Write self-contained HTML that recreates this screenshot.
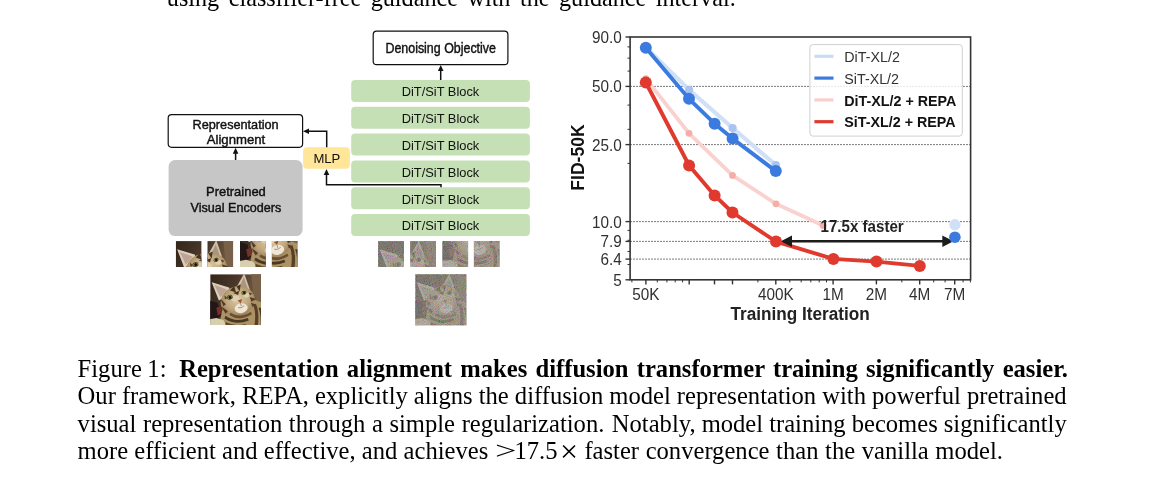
<!DOCTYPE html>
<html><head><meta charset="utf-8"><title>Figure 1</title>
<style>
html,body{margin:0;padding:0;background:#fff;}
body{width:1168px;height:489px;overflow:hidden;position:relative;font-family:"Liberation Serif",serif;color:#000;}
svg{position:absolute;left:0;top:0;}
.ln{position:absolute;left:77.6px;white-space:nowrap;font-size:24.6px;line-height:28px;height:28px;}
</style></head><body>
<div class="ln" id="t0" style="left:166.8px;top:-16.2px;font-size:24.2px;word-spacing:3.45px;">using classifier-free guidance with the guidance interval.</div>
<svg width="1168" height="489" viewBox="0 0 1168 489">
<g id="diagram">
<rect x="351.2" y="80.0" width="178.7" height="22" rx="4" fill="#c5e0b4"/>
<text x="440.5" y="96.3" text-anchor="middle" font-size="12.85" fill="#111" font-family="Liberation Sans, sans-serif">DiT/SiT Block</text>
<rect x="351.2" y="106.8" width="178.7" height="22" rx="4" fill="#c5e0b4"/>
<text x="440.5" y="123.1" text-anchor="middle" font-size="12.85" fill="#111" font-family="Liberation Sans, sans-serif">DiT/SiT Block</text>
<rect x="351.2" y="133.6" width="178.7" height="22" rx="4" fill="#c5e0b4"/>
<text x="440.5" y="149.9" text-anchor="middle" font-size="12.85" fill="#111" font-family="Liberation Sans, sans-serif">DiT/SiT Block</text>
<rect x="351.2" y="160.4" width="178.7" height="22" rx="4" fill="#c5e0b4"/>
<text x="440.5" y="176.7" text-anchor="middle" font-size="12.85" fill="#111" font-family="Liberation Sans, sans-serif">DiT/SiT Block</text>
<rect x="351.2" y="187.2" width="178.7" height="22" rx="4" fill="#c5e0b4"/>
<text x="440.5" y="203.5" text-anchor="middle" font-size="12.85" fill="#111" font-family="Liberation Sans, sans-serif">DiT/SiT Block</text>
<rect x="351.2" y="214.0" width="178.7" height="22" rx="4" fill="#c5e0b4"/>
<text x="440.5" y="230.3" text-anchor="middle" font-size="12.85" fill="#111" font-family="Liberation Sans, sans-serif">DiT/SiT Block</text>
<rect x="373.2" y="31.2" width="134.7" height="33.5" rx="3.5" fill="#fff" stroke="#111" stroke-width="1.2"/>
<text x="440.7" y="52.7" text-anchor="middle" font-size="14" fill="#111" stroke="#111" stroke-width="0.42" textLength="110.5" lengthAdjust="spacingAndGlyphs" font-family="Liberation Sans, sans-serif">Denoising Objective</text>
<line x1="440.7" x2="440.7" y1="80" y2="69" stroke="#111" stroke-width="1.5"/>
<polygon points="440.7,65 437.9,71 443.5,71" fill="#111"/>
<rect x="168.2" y="114.6" width="134.4" height="32.7" rx="3.5" fill="#fff" stroke="#111" stroke-width="1.2"/>
<text x="235.6" y="128.6" text-anchor="middle" font-size="13.1" fill="#111" stroke="#111" stroke-width="0.42" textLength="86" lengthAdjust="spacingAndGlyphs" font-family="Liberation Sans, sans-serif">Representation</text>
<text x="236" y="143.5" text-anchor="middle" font-size="13.1" fill="#111" stroke="#111" stroke-width="0.42" textLength="58.5" lengthAdjust="spacingAndGlyphs" font-family="Liberation Sans, sans-serif">Alignment</text>
<rect x="168.6" y="160.1" width="134" height="76" rx="6.5" fill="#c6c6c6"/>
<text x="235.9" y="195.8" text-anchor="middle" font-size="12.8" fill="#111" stroke="#111" stroke-width="0.42" textLength="59.8" lengthAdjust="spacingAndGlyphs" font-family="Liberation Sans, sans-serif">Pretrained</text>
<text x="235.9" y="211.7" text-anchor="middle" font-size="12.8" fill="#111" stroke="#111" stroke-width="0.42" textLength="90.6" lengthAdjust="spacingAndGlyphs" font-family="Liberation Sans, sans-serif">Visual Encoders</text>
<line x1="235.6" x2="235.6" y1="160" y2="152" stroke="#111" stroke-width="1.5"/>
<polygon points="235.6,147.8 232.8,153.8 238.4,153.8" fill="#111"/>
<rect x="303.1" y="147.3" width="46.8" height="21.4" rx="4" fill="#ffe699"/>
<text x="326.9" y="162.6" text-anchor="middle" font-size="13.1" fill="#111" font-family="Liberation Sans, sans-serif">MLP</text>
<polyline points="326.7,147.3 326.7,131.3 308,131.3" fill="none" stroke="#111" stroke-width="1.5"/>
<polygon points="303,131.3 309,128.5 309,134.1" fill="#111"/>
<polyline points="441,187.2 441,184.7 326.5,184.7 326.5,174" fill="none" stroke="#111" stroke-width="1.5"/>
<polygon points="326.5,169 323.7,175 329.3,175" fill="#111"/>
<defs>
<filter id="bl" x="-10%" y="-10%" width="120%" height="120%"><feGaussianBlur stdDeviation="1.25"/></filter>
<filter id="bl2" x="-10%" y="-10%" width="120%" height="120%"><feGaussianBlur stdDeviation="0.8"/></filter>
<linearGradient id="bg" x1="0" y1="0" x2="1" y2="0.35">
<stop offset="0" stop-color="#33251b"/><stop offset="0.5" stop-color="#49382a"/><stop offset="1" stop-color="#7b6348"/>
</linearGradient>
<radialGradient id="hd" cx="0.52" cy="0.45" r="0.62">
<stop offset="0" stop-color="#dccaa6"/><stop offset="0.55" stop-color="#c0a67c"/><stop offset="1" stop-color="#8f744d"/>
</radialGradient>
<clipPath id="cc"><rect x="0" y="0" width="100" height="100"/></clipPath>
<g id="cat" clip-path="url(#cc)">
<rect x="0" y="0" width="100" height="100" fill="url(#bg)"/>
<g filter="url(#bl)">
<path d="M-8,50 L14,56 L22,80 L10,92 L-8,92 Z" fill="#211713"/>
<path d="M12,66 L20,63 L24,76 L15,82 Z" fill="#74302a"/>
<path d="M80,-8 L108,-8 L108,60 L86,50 Z" fill="#78604a"/>
<path d="M16,108 L24,70 L50,60 L86,50 L108,58 L108,108 Z" fill="#ad9266"/>
<path d="M-8,90 L12,86 L26,90 L36,108 L-8,108 Z" fill="#d8cfae"/>
<path d="M3,16 L37,26 L42,40 L17,52 Z" fill="#ddd0ba"/>
<path d="M8,21 L33,30 L20,46 Z" fill="#bda494"/>
<path d="M67,-2 L78,30 L70,36 L51,27 Z" fill="#d2c0a6"/>
<path d="M66,6 L74,28 L57,26 Z" fill="#aa9482"/>
<ellipse cx="54" cy="53" rx="34" ry="29" fill="url(#hd)" transform="rotate(-20 54 53)"/>
<path d="M39,32 L47,23 L51,36 Z M52,24 L60,20 L58,34 Z M45,37 L57,33 L55,41 Z" fill="#453321"/>
<path d="M20,48 L31,59 L26,63 Z M22,63 L35,73 L30,78 Z M78,45 L90,49 L81,54 Z M80,56 L91,60 L83,64 Z M28,42 L34,47 L29,50 Z M76,36 L83,38 L78,42 Z" fill="#523d28"/>
<ellipse cx="61" cy="67" rx="13" ry="9.5" fill="#eee6d7" transform="rotate(-12 61 67)"/>
<ellipse cx="49" cy="48" rx="8" ry="6" fill="#e0cfac"/>
<ellipse cx="71" cy="41" rx="6" ry="5" fill="#e0cfac"/>
<path d="M30,82 Q50,96 74,86 L76,91 Q50,102 28,87 Z" fill="#4a3722"/>
<path d="M40,76 Q58,88 80,74 L82,79 Q58,94 38,81 Z" fill="#6a5030"/>
<path d="M84,60 Q92,76 86,108 L93,108 Q98,76 90,58 Z" fill="#573f27"/>
<path d="M95,66 Q101,80 99,108 L108,108 L108,66 Z" fill="#4a3722"/>
<path d="M30,94 Q50,104 70,98 L70,108 L30,108 Z" fill="#5e472c"/>
</g>
<g filter="url(#bl2)">
<ellipse cx="38.5" cy="45.5" rx="5.8" ry="4.6" fill="#3a2f1e" transform="rotate(-15 38.5 45.5)"/>
<ellipse cx="38.5" cy="45.5" rx="4.8" ry="3.7" fill="#858c4e" transform="rotate(-15 38.5 45.5)"/>
<ellipse cx="39" cy="45.5" rx="2.7" ry="3.1" fill="#15140c"/>
<ellipse cx="66.5" cy="36.5" rx="4.9" ry="3.9" fill="#3a2f1e" transform="rotate(-15 66.5 36.5)"/>
<ellipse cx="66.5" cy="36.5" rx="4" ry="3.1" fill="#858c4e" transform="rotate(-15 66.5 36.5)"/>
<ellipse cx="67" cy="36.5" rx="2.3" ry="2.7" fill="#15140c"/>
<path d="M54,52 L63,49 L60,57 Z" fill="#96543c"/>
<path d="M60,57 L61,63 M55,66 Q61,68 67,62" stroke="#7a5a44" stroke-width="1.2" fill="none"/>
</g>
</g>
<filter id="nz" x="0" y="0" width="100%" height="100%"><feTurbulence type="fractalNoise" baseFrequency="0.55" numOctaves="2" seed="7" result="t"/><feColorMatrix type="matrix" values="1.6 0 0 0 -0.3  0 1.6 0 0 -0.3  0 0 1.6 0 -0.3  0 0 0 0 1"/></filter>
<g id="ncat"><rect x="0" y="0" width="100" height="100" fill="#827d74"/><use href="#cat" opacity="0.42"/><rect x="0" y="0" width="100" height="100" filter="url(#nz)" opacity="0.3"/></g>
</defs>
<clipPath id="ca0"><rect x="175.6" y="241.1" width="25.8" height="25.8"/></clipPath><g clip-path="url(#ca0)"><use href="#cat" transform="translate(175.60,241.10) scale(0.5160)"/></g>
<clipPath id="ca1"><rect x="207.5" y="241.1" width="25.8" height="25.8"/></clipPath><g clip-path="url(#ca1)"><use href="#cat" transform="translate(181.70,241.10) scale(0.5160)"/></g>
<clipPath id="ca2"><rect x="240.0" y="241.1" width="25.8" height="25.8"/></clipPath><g clip-path="url(#ca2)"><use href="#cat" transform="translate(240.00,215.30) scale(0.5160)"/></g>
<clipPath id="ca3"><rect x="271.9" y="241.1" width="25.8" height="25.8"/></clipPath><g clip-path="url(#ca3)"><use href="#cat" transform="translate(246.10,215.30) scale(0.5160)"/></g>
<use href="#cat" transform="translate(210.2,274.2) scale(0.508)"/>
<clipPath id="cb0"><rect x="378.1" y="241.1" width="25.8" height="25.8"/></clipPath><g clip-path="url(#cb0)"><use href="#ncat" transform="translate(378.10,241.10) scale(0.5160)"/></g>
<clipPath id="cb1"><rect x="410.2" y="241.1" width="25.8" height="25.8"/></clipPath><g clip-path="url(#cb1)"><use href="#ncat" transform="translate(384.40,241.10) scale(0.5160)"/></g>
<clipPath id="cb2"><rect x="442.3" y="241.1" width="25.8" height="25.8"/></clipPath><g clip-path="url(#cb2)"><use href="#ncat" transform="translate(442.30,215.30) scale(0.5160)"/></g>
<clipPath id="cb3"><rect x="473.9" y="241.1" width="25.8" height="25.8"/></clipPath><g clip-path="url(#cb3)"><use href="#ncat" transform="translate(448.10,215.30) scale(0.5160)"/></g>
<use href="#ncat" transform="translate(415.3,274.2) scale(0.51)"/>
</g>
<g id="chart">
<line x1="630.1" x2="970.6" y1="86.4" y2="86.4" stroke="#5a5a5a" stroke-width="0.9" stroke-dasharray="1.8,1.2"/>
<line x1="630.1" x2="970.6" y1="144.6" y2="144.6" stroke="#5a5a5a" stroke-width="0.9" stroke-dasharray="1.8,1.2"/>
<line x1="630.1" x2="970.6" y1="221.6" y2="221.6" stroke="#5a5a5a" stroke-width="0.9" stroke-dasharray="1.8,1.2"/>
<line x1="630.1" x2="970.6" y1="241.4" y2="241.4" stroke="#5a5a5a" stroke-width="0.9" stroke-dasharray="1.8,1.2"/>
<line x1="630.1" x2="970.6" y1="259.1" y2="259.1" stroke="#5a5a5a" stroke-width="0.9" stroke-dasharray="1.8,1.2"/>
<polyline points="645.8,47.4 689.1,89.8 732.6,128.0 775.8,165.0" fill="none" stroke="#cfe0f7" stroke-width="4.2" stroke-linejoin="round" stroke-linecap="round"/>
<circle cx="645.8" cy="47.4" r="4.1" fill="#a9c4f0"/><circle cx="689.1" cy="89.8" r="4.1" fill="#a9c4f0"/><circle cx="732.6" cy="128.0" r="4.1" fill="#a9c4f0"/><circle cx="775.8" cy="165.0" r="4.1" fill="#a9c4f0"/>
<polyline points="645.8,78.6 689.0,133.3 732.5,175.4 776.0,203.8 823.0,225.5" fill="none" stroke="#f9d2cf" stroke-width="3.8" stroke-linejoin="round" stroke-linecap="round"/>
<circle cx="645.8" cy="78.6" r="3.4" fill="#f3aea9"/><circle cx="689.0" cy="133.3" r="3.4" fill="#f3aea9"/><circle cx="732.5" cy="175.4" r="3.4" fill="#f3aea9"/><circle cx="776.0" cy="203.8" r="3.4" fill="#f3aea9"/><circle cx="823.0" cy="225.5" r="3.4" fill="#f3aea9"/>
<polyline points="645.8,47.8 689.0,98.8 714.6,123.7 732.6,138.6 775.8,171.1" fill="none" stroke="#3b7be0" stroke-width="3.9" stroke-linejoin="round" stroke-linecap="round"/>
<circle cx="645.8" cy="47.8" r="6.0" fill="#3b7be0"/><circle cx="689.0" cy="98.8" r="6.0" fill="#3b7be0"/><circle cx="714.6" cy="123.7" r="6.0" fill="#3b7be0"/><circle cx="732.6" cy="138.6" r="6.0" fill="#3b7be0"/><circle cx="775.8" cy="171.1" r="6.0" fill="#3b7be0"/>
<polyline points="645.8,82.5 689.1,165.5 714.6,195.4 732.5,212.5 776.0,241.6 833.4,258.9 876.5,261.6 919.8,265.9" fill="none" stroke="#e03a2f" stroke-width="3.9" stroke-linejoin="round" stroke-linecap="round"/>
<circle cx="645.8" cy="82.5" r="6.0" fill="#e03a2f"/><circle cx="689.1" cy="165.5" r="6.0" fill="#e03a2f"/><circle cx="714.6" cy="195.4" r="6.0" fill="#e03a2f"/><circle cx="732.5" cy="212.5" r="6.0" fill="#e03a2f"/><circle cx="833.4" cy="258.9" r="6.0" fill="#e03a2f"/><circle cx="876.5" cy="261.6" r="6.0" fill="#e03a2f"/><circle cx="919.8" cy="265.9" r="6.0" fill="#e03a2f"/>
<line x1="790" x2="944" y1="241.3" y2="241.3" stroke="#1c1c1c" stroke-width="2.5"/>
<polygon points="780.8,241.3 792,235.6 792,247.0" fill="#1c1c1c"/>
<polygon points="953.5,241.3 942.3,235.6 942.3,247.0" fill="#1c1c1c"/>
<circle cx="776.0" cy="241.6" r="6.0" fill="#e03a2f"/>
<circle cx="954.9" cy="224.7" r="5.6" fill="#cfe0f7"/>
<circle cx="954.9" cy="237.2" r="5.8" fill="#3b7be0"/>
<text transform="translate(862.1,232.4) scale(0.963,1)" text-anchor="middle" font-size="15.7" font-weight="bold" fill="#222" font-family="Liberation Sans, sans-serif">17.5x faster</text>
<rect x="630.1" y="37.0" width="340.5" height="242.8" fill="none" stroke="#333" stroke-width="1.6"/>
<line x1="625.5" x2="630.1" y1="37.0" y2="37.0" stroke="#333" stroke-width="1.4"/>
<text transform="translate(621.7,43.0) scale(0.900,1)" text-anchor="end" font-size="17" fill="#303030" font-family="Liberation Sans, sans-serif">90.0</text>
<line x1="625.5" x2="630.1" y1="86.4" y2="86.4" stroke="#333" stroke-width="1.4"/>
<text transform="translate(621.7,92.4) scale(0.900,1)" text-anchor="end" font-size="17" fill="#303030" font-family="Liberation Sans, sans-serif">50.0</text>
<line x1="625.5" x2="630.1" y1="144.6" y2="144.6" stroke="#333" stroke-width="1.4"/>
<text transform="translate(621.7,150.6) scale(0.900,1)" text-anchor="end" font-size="17" fill="#303030" font-family="Liberation Sans, sans-serif">25.0</text>
<line x1="625.5" x2="630.1" y1="221.6" y2="221.6" stroke="#333" stroke-width="1.4"/>
<text transform="translate(621.7,227.6) scale(0.900,1)" text-anchor="end" font-size="17" fill="#303030" font-family="Liberation Sans, sans-serif">10.0</text>
<line x1="625.5" x2="630.1" y1="241.4" y2="241.4" stroke="#333" stroke-width="1.4"/>
<text transform="translate(621.7,247.4) scale(0.900,1)" text-anchor="end" font-size="17" fill="#303030" font-family="Liberation Sans, sans-serif">7.9</text>
<line x1="625.5" x2="630.1" y1="259.1" y2="259.1" stroke="#333" stroke-width="1.4"/>
<text transform="translate(621.7,265.1) scale(0.900,1)" text-anchor="end" font-size="17" fill="#303030" font-family="Liberation Sans, sans-serif">6.4</text>
<line x1="625.5" x2="630.1" y1="279.8" y2="279.8" stroke="#333" stroke-width="1.4"/>
<text transform="translate(621.7,285.8) scale(0.900,1)" text-anchor="end" font-size="17" fill="#303030" font-family="Liberation Sans, sans-serif">5</text>
<line x1="627.5" x2="630.1" y1="264.5" y2="264.5" stroke="#333" stroke-width="1"/>
<line x1="627.5" x2="630.1" y1="251.5" y2="251.5" stroke="#333" stroke-width="1"/>
<line x1="627.5" x2="630.1" y1="240.3" y2="240.3" stroke="#333" stroke-width="1"/>
<line x1="627.5" x2="630.1" y1="230.4" y2="230.4" stroke="#333" stroke-width="1"/>
<line x1="627.5" x2="630.1" y1="163.4" y2="163.4" stroke="#333" stroke-width="1"/>
<line x1="627.5" x2="630.1" y1="129.3" y2="129.3" stroke="#333" stroke-width="1"/>
<line x1="627.5" x2="630.1" y1="105.1" y2="105.1" stroke="#333" stroke-width="1"/>
<line x1="627.5" x2="630.1" y1="71.1" y2="71.1" stroke="#333" stroke-width="1"/>
<line x1="627.5" x2="630.1" y1="58.1" y2="58.1" stroke="#333" stroke-width="1"/>
<line x1="627.5" x2="630.1" y1="46.9" y2="46.9" stroke="#333" stroke-width="1"/>
<line x1="645.9" x2="645.9" y1="279.8" y2="284.4" stroke="#333" stroke-width="1.4"/>
<text transform="translate(645.9,300.2) scale(0.900,1)" text-anchor="middle" font-size="17" fill="#303030" font-family="Liberation Sans, sans-serif">50K</text>
<line x1="689.2" x2="689.2" y1="279.8" y2="284.4" stroke="#333" stroke-width="1.4"/>
<line x1="714.5" x2="714.5" y1="279.8" y2="284.4" stroke="#333" stroke-width="1.4"/>
<line x1="732.5" x2="732.5" y1="279.8" y2="284.4" stroke="#333" stroke-width="1.4"/>
<line x1="775.8" x2="775.8" y1="279.8" y2="284.4" stroke="#333" stroke-width="1.4"/>
<text transform="translate(775.8,300.2) scale(0.900,1)" text-anchor="middle" font-size="17" fill="#303030" font-family="Liberation Sans, sans-serif">400K</text>
<line x1="833.1" x2="833.1" y1="279.8" y2="284.4" stroke="#333" stroke-width="1.4"/>
<text transform="translate(833.1,300.2) scale(0.900,1)" text-anchor="middle" font-size="17" fill="#303030" font-family="Liberation Sans, sans-serif">1M</text>
<line x1="876.4" x2="876.4" y1="279.8" y2="284.4" stroke="#333" stroke-width="1.4"/>
<text transform="translate(876.4,300.2) scale(0.900,1)" text-anchor="middle" font-size="17" fill="#303030" font-family="Liberation Sans, sans-serif">2M</text>
<line x1="919.7" x2="919.7" y1="279.8" y2="284.4" stroke="#333" stroke-width="1.4"/>
<text transform="translate(919.7,300.2) scale(0.900,1)" text-anchor="middle" font-size="17" fill="#303030" font-family="Liberation Sans, sans-serif">4M</text>
<line x1="954.7" x2="954.7" y1="279.8" y2="284.4" stroke="#333" stroke-width="1.4"/>
<text transform="translate(954.7,300.2) scale(0.900,1)" text-anchor="middle" font-size="17" fill="#303030" font-family="Liberation Sans, sans-serif">7M</text>
<line x1="631.9" x2="631.9" y1="279.8" y2="282.4" stroke="#333" stroke-width="1"/>
<line x1="657.3" x2="657.3" y1="279.8" y2="282.4" stroke="#333" stroke-width="1"/>
<line x1="666.9" x2="666.9" y1="279.8" y2="282.4" stroke="#333" stroke-width="1"/>
<line x1="675.2" x2="675.2" y1="279.8" y2="282.4" stroke="#333" stroke-width="1"/>
<line x1="682.6" x2="682.6" y1="279.8" y2="282.4" stroke="#333" stroke-width="1"/>
<line x1="757.9" x2="757.9" y1="279.8" y2="282.4" stroke="#333" stroke-width="1"/>
<line x1="789.8" x2="789.8" y1="279.8" y2="282.4" stroke="#333" stroke-width="1"/>
<line x1="801.2" x2="801.2" y1="279.8" y2="282.4" stroke="#333" stroke-width="1"/>
<line x1="810.8" x2="810.8" y1="279.8" y2="282.4" stroke="#333" stroke-width="1"/>
<line x1="819.2" x2="819.2" y1="279.8" y2="282.4" stroke="#333" stroke-width="1"/>
<line x1="826.5" x2="826.5" y1="279.8" y2="282.4" stroke="#333" stroke-width="1"/>
<line x1="901.8" x2="901.8" y1="279.8" y2="282.4" stroke="#333" stroke-width="1"/>
<line x1="933.7" x2="933.7" y1="279.8" y2="282.4" stroke="#333" stroke-width="1"/>
<line x1="945.1" x2="945.1" y1="279.8" y2="282.4" stroke="#333" stroke-width="1"/>
<line x1="963.1" x2="963.1" y1="279.8" y2="282.4" stroke="#333" stroke-width="1"/>
<line x1="970.4" x2="970.4" y1="279.8" y2="282.4" stroke="#333" stroke-width="1"/>
<text transform="translate(800.1,320.3) scale(0.965,1)" text-anchor="middle" font-size="17.8" font-weight="bold" fill="#222" font-family="Liberation Sans, sans-serif">Training Iteration</text>
<text transform="translate(584.1,157.5) rotate(-90) scale(0.975,1)" text-anchor="middle" font-size="18" font-weight="bold" fill="#111" font-family="Liberation Sans, sans-serif">FID-50K</text>
<rect x="809.9" y="44.6" width="152.4" height="91.5" rx="3" fill="#fff" fill-opacity="0.82" stroke="#d0d0d0" stroke-width="1"/>
<line x1="814.4" x2="833.5" y1="56.3" y2="56.3" stroke="#c9dcf6" stroke-width="3.2"/>
<text transform="translate(844.3,62.4) scale(0.965,1)" text-anchor="start" font-size="14.8" fill="#333" font-family="Liberation Sans, sans-serif">DiT-XL/2</text>
<line x1="814.4" x2="833.5" y1="78.1" y2="78.1" stroke="#3b7be0" stroke-width="3.2"/>
<text transform="translate(844.3,83.7) scale(0.965,1)" text-anchor="start" font-size="14.8" fill="#333" font-family="Liberation Sans, sans-serif">SiT-XL/2</text>
<line x1="814.4" x2="833.5" y1="99.9" y2="99.9" stroke="#f9cfcc" stroke-width="3.2"/>
<text transform="translate(844.3,105.6) scale(0.980,1)" text-anchor="start" font-size="14.6" font-weight="bold" fill="#111" font-family="Liberation Sans, sans-serif">DiT-XL/2 + REPA</text>
<line x1="814.4" x2="833.5" y1="121.7" y2="121.7" stroke="#e03a2f" stroke-width="3.2"/>
<text transform="translate(844.3,127.2) scale(0.980,1)" text-anchor="start" font-size="14.6" font-weight="bold" fill="#111" font-family="Liberation Sans, sans-serif">SiT-XL/2 + REPA</text>
</g>
</svg>
<div class="ln" id="t1a" style="top:355px;word-spacing:-0.6px;">Figure 1:</div>
<div class="ln" id="t1b" style="top:355px;left:179.2px;font-weight:bold;word-spacing:2.12px;">Representation alignment makes diffusion transformer training significantly easier.</div>
<div class="ln" id="t2" style="top:382.3px;word-spacing:-0.06px;">Our framework, REPA, explicitly aligns the diffusion model representation with powerful pretrained</div>
<div class="ln" id="t3" style="top:409.7px;word-spacing:0.45px;">visual representation through a simple regularization.</div>
<div class="ln" id="t3b" style="top:409.7px;left:611.8px;word-spacing:-0.1px;">Notably, model training becomes significantly</div>
<div class="ln" id="t4a" style="top:437px;word-spacing:0.1px;">more efficient and effective, and achieves</div>
<div class="ln" id="t4b" style="top:437px;left:494.6px;transform:scaleX(1.55);transform-origin:0 0;">&gt;</div>
<div class="ln" id="t4c" style="top:437px;left:514.4px;">17.5</div>
<div class="ln" id="t4d" style="top:437px;left:560.3px;top:438.5px;transform:scale(1.3);transform-origin:0 68%;">&times;</div>
<div class="ln" id="t4e" style="top:437px;left:584.4px;word-spacing:0.5px;">faster convergence than the vanilla model.</div>
</body></html>
